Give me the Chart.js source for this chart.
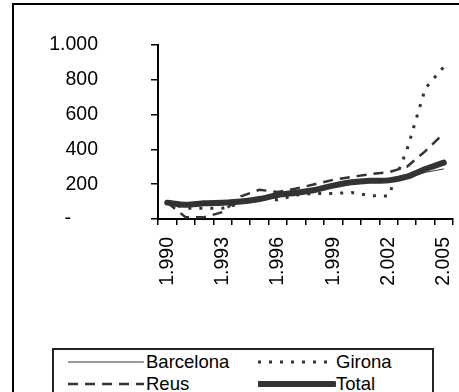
<!DOCTYPE html>
<html>
<head>
<meta charset="utf-8">
<script src="https://cdn.jsdelivr.net/npm/chart.js@4.4.0/dist/chart.umd.min.js"></script>
<style>
  html, body { margin: 0; padding: 0; background: #fff; }
  #wrap { position: relative; width: 459px; height: 392px; overflow: hidden; font-family: "Liberation Sans", Arial, sans-serif; }
  #frame { position: absolute; left: 12px; top: 3px; width: 500px; height: 500px; border: 2px solid #000; box-sizing: border-box; }
  #canvas { position: absolute; left: 0; top: 0; }
  #legend { position: absolute; left: 52px; top: 348px; width: 382px; height: 60px; border: 2px solid #222; box-sizing: border-box; background: #fff; }
  .item { position: absolute; height: 20px; font-size: 18.5px; line-height: 20px; color: #000; }
  .item svg { position: absolute; left: 0; top: 0; }
  .item span { position: absolute; left: 78px; top: 0; white-space: nowrap; }
</style>
</head>
<body>
<div id="wrap">
  <div id="frame"></div>
  <canvas id="canvas" width="459" height="392"></canvas>
  <div id="legend"></div>
</div>
<script>
var years = ['1.990', '1.991', '1.992', '1.993', '1.994', '1.995', '1.996', '1.997',
    '1.998', '1.999', '2.000', '2.001', '2.002', '2.003', '2.004', '2.005'];
var barcelona = [95, 86, 92, 94, 102, 118, 140, 150, 163, 186, 205, 214, 218, 238, 268, 288];
var girona = [95, 62, 62, 62, 90, 120, 110, 138, 147, 147, 152, 134, 132, 397, 751, 875];
var reus = [95, 10, 10, 40, 130, 168, 155, 175, 200, 225, 242, 258, 268, 300, 390, 493];
var total = [94, 82, 90, 93, 100, 115, 138, 151, 167, 192, 211, 220, 222, 243, 287, 324];
var yTicks = [0, 200, 400, 600, 800, 1000];

var series = [
    { label: 'Barcelona', data: barcelona, width: 1, dash: [], color: '#333', left: 14, top: 2 },
    { label: 'Reus', data: reus, width: 2.5, dash: [10, 7], color: '#333', left: 14, top: 24 },
    { label: 'Girona', data: girona, width: 3, dash: [3, 8], color: '#333', left: 204, top: 2 },
    { label: 'Total', data: total, width: 6, dash: [], color: '#333', left: 204, top: 24, tension: 0.3 }
];

var legend = document.getElementById('legend');
series.forEach(function(s) {
    var d = document.createElement('div');
    d.className = 'item';
    d.style.left = s.left + 'px';
    d.style.top = s.top + 'px';
    d.innerHTML = '<svg width="78" height="20"><line x1="0" y1="10" x2="76" y2="10" stroke="' + s.color +
        '" stroke-width="' + s.width + '" stroke-dasharray="' + (s.dash.length ? s.dash.join(',') : 'none') +
        '" stroke-linecap="' + (s.width > 4 ? 'round' : 'butt') + '"/></svg><span>' + s.label + '</span>';
    legend.appendChild(d);
});

var ctx = document.getElementById('canvas').getContext('2d');
new Chart(ctx, {
    type: 'line',
    data: {
        labels: years,
        datasets: series.map(function(s) {
            return {
                label: s.label,
                data: s.data,
                borderColor: s.color,
                borderWidth: s.width,
                borderDash: s.dash,
                borderCapStyle: s.width > 4 ? 'round' : 'butt',
                pointRadius: 0,
                tension: s.tension || 0,
                fill: false
            };
        })
    },
    options: {
        responsive: false,
        animation: false,
        layout: { padding: { top: 45, right: 6, left: 0, bottom: 0 } },
        plugins: { legend: { display: false }, tooltip: { enabled: false } },
        scales: {
            x: {
                offset: true,
                grid: { offset: true, drawOnChartArea: false, tickLength: 6, color: '#000', lineWidth: 1.5 },
                border: { color: '#000', width: 2 },
                ticks: {
                    autoSkip: false, minRotation: 90, maxRotation: 90, padding: 12,
                    color: '#000', font: { family: 'Liberation Sans', size: 19.5 },
                    callback: function(v, i) { return i % 3 === 0 ? years[i] : ''; }
                },
                afterFit: function(scale) {
                    scale.height = 173;
                    scale.paddingLeft = 0; scale.paddingRight = 0;
                    scale.paddingTop = 0; scale.paddingBottom = 0;
                }
            },
            y: {
                min: 0, max: 1000,
                afterBuildTicks: function(scale) { scale.ticks = yTicks.map(function(v) { return { value: v }; }); },
                grid: { drawOnChartArea: false, tickLength: 7, color: '#000', lineWidth: 1.5 },
                border: { color: '#000', width: 2 },
                ticks: {
                    padding: 53, color: '#000', font: { family: 'Liberation Sans', size: 19.5 },
                    callback: function(v) { return v === 0 ? '-\u00a0\u00a0\u00a0\u00a0\u00a0' : v.toLocaleString('de-DE'); }
                },
                afterFit: function(scale) {
                    scale.width = 158;
                    scale.paddingLeft = 0; scale.paddingRight = 0;
                    scale.paddingTop = 0; scale.paddingBottom = 0;
                }
            }
        }
    }
});
</script>
</body>
</html>
